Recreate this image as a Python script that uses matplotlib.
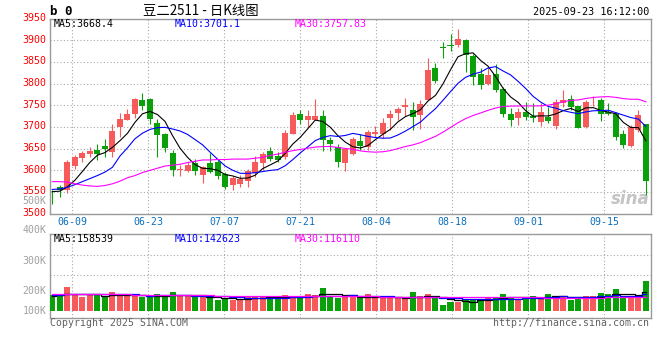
import numpy as np
import pandas as pd
import matplotlib
matplotlib.use('Agg')
import matplotlib.pyplot as plt
from matplotlib import transforms

# ---------------- data ----------------
date_labels = ['06-09', '06-23', '07-07', '07-21', '08-04', '08-18', '09-01', '09-15']

open_ = [3542, 3561, 3555, 3609, 3628, 3638, 3647, 3656, 3643, 3701,
         3716, 3730, 3762, 3765, 3710, 3684, 3639, 3601, 3599, 3618,
         3589, 3618, 3619, 3591, 3566, 3568, 3576, 3593, 3618, 3645,
         3633, 3631, 3685, 3730, 3716, 3717, 3725, 3670, 3653, 3618,
         3638, 3667, 3654, 3683, 3684, 3720, 3732, 3747, 3739, 3727,
         3762, 3836, 3884, 3888, 3889, 3900, 3863, 3823, 3800, 3822,
         3787, 3731, 3721, 3735, 3726, 3712, 3724, 3703, 3755, 3765,
         3748, 3701, 3759, 3762, 3734, 3731, 3684, 3656, 3693, 3707]
high = [3555, 3566, 3625, 3635, 3645, 3653, 3662, 3672, 3706, 3733,
        3741, 3768, 3779, 3768, 3718, 3687, 3648, 3612, 3620, 3627,
        3610, 3641, 3624, 3597, 3587, 3589, 3603, 3634, 3642, 3653,
        3642, 3693, 3735, 3739, 3739, 3764, 3739, 3677, 3661, 3651,
        3676, 3684, 3694, 3702, 3721, 3740, 3747, 3766, 3758, 3763,
        3859, 3848, 3896, 3914, 3927, 3904, 3869, 3836, 3839, 3845,
        3793, 3745, 3745, 3758, 3755, 3755, 3747, 3764, 3785, 3774,
        3749, 3762, 3772, 3768, 3755, 3735, 3693, 3705, 3739, 3708]
low = [3522, 3538, 3548, 3603, 3619, 3630, 3625, 3631, 3631, 3678,
       3716, 3722, 3739, 3707, 3631, 3643, 3587, 3587, 3597, 3589,
       3571, 3593, 3581, 3558, 3555, 3561, 3562, 3585, 3602, 3622,
       3619, 3626, 3683, 3707, 3699, 3716, 3645, 3645, 3608, 3599,
       3635, 3648, 3648, 3676, 3675, 3694, 3717, 3725, 3694, 3695,
       3762, 3802, 3860, 3876, 3885, 3827, 3796, 3787, 3796, 3781,
       3724, 3702, 3704, 3717, 3712, 3702, 3710, 3695, 3747, 3739,
       3697, 3697, 3748, 3714, 3728, 3670, 3652, 3653, 3689, 3543]
close = [3540, 3555, 3620, 3631, 3641, 3645, 3638, 3650, 3691, 3718,
         3730, 3765, 3749, 3718, 3682, 3651, 3601, 3604, 3612, 3599,
         3608, 3596, 3587, 3562, 3583, 3581, 3598, 3620, 3638, 3626,
         3625, 3687, 3727, 3716, 3725, 3725, 3671, 3661, 3620, 3649,
         3672, 3656, 3689, 3689, 3710, 3730, 3741, 3750, 3724, 3754,
         3831, 3806, 3883, 3887, 3904, 3866, 3816, 3796, 3820, 3785,
         3730, 3716, 3734, 3724, 3721, 3734, 3715, 3757, 3762, 3747,
         3698, 3757, 3760, 3729, 3729, 3678, 3658, 3701, 3728, 3576]
volume_k = [130, 130, 199, 136, 116, 130, 130, 111, 155, 130,
            130, 125, 116, 116, 138, 125, 155, 122, 122, 111,
            130, 103, 89, 103, 89, 89, 122, 122, 122, 94,
            103, 130, 122, 105, 138, 130, 188, 115, 108, 116,
            116, 103, 138, 108, 108, 108, 103, 94, 155, 122,
            138, 103, 47, 72, 72, 94, 94, 94, 103, 114,
            138, 103, 94, 114, 122, 114, 138, 122, 122, 89,
            94, 122, 122, 147, 138, 180, 103, 122, 122, 246]

# moving-average values visible before enough closes exist
ma5_head = [3551, 3552, 3562, 3577]
ma10_head = [3556, 3557, 3561, 3567, 3574, 3581, 3588, 3596, 3607]
ma30_head = [3574, 3574, 3573, 3569, 3566, 3564, 3563, 3565, 3569, 3575,
             3583, 3588, 3595, 3600, 3605, 3610, 3612, 3614, 3618, 3621,
             3624, 3624, 3625, 3625, 3626, 3626, 3626, 3628, 3630]
vma5_head = [125, 128, 138, 140]
vma10_head = [133, 133, 135, 135, 135, 136, 136, 136, 137]
vma30_head = [140, 140, 142, 142, 138, 138, 138, 138, 138, 138,
              136, 134, 134, 133, 133, 132, 132, 131, 130, 130,
              128, 127, 126, 125, 124, 123, 123, 122, 122]

price_ticks = [3500, 3550, 3600, 3650, 3700, 3750, 3800, 3850, 3900, 3950]
legend_price = ['MA5:3668.4', 'MA10:3701.1', 'MA30:3757.83']
legend_vol = ['MA5:158539', 'MA10:142623', 'MA30:116110']
vol_labels = ['400K', '300K', '200K', '100K']
title = '豆二2511 - 日K线图'
stamp = '2025-09-23 16:12:00'

# ---------------- helpers ----------------
W, H = 660, 360
fig = plt.figure(figsize=(6.6, 3.6), dpi=100)
fig.patch.set_facecolor('white')

def fx(px):
    return px / W

def fy(py):
    return 1 - py / H

MONO = 'DejaVu Sans Mono'
FS = 7.15
RED = '#f75a5a'
GREEN = '#0aa00a'
GRID = '#a8a8a8'
SPINE = '#9a9a9a'

n = len(close)
x = np.arange(n)
o = np.array(open_, float)
c = np.array(close, float)
hi = np.array(high, float)
lo = np.array(low, float)
vol = np.array(volume_k, float) * 1000
up = c >= o
cols = np.where(up, RED, GREEN)

def ma(series, w, head):
    m = pd.Series(series).rolling(w).mean().to_numpy()
    m[:w - 1] = head
    return m

ma5 = ma(c, 5, ma5_head)
ma10 = ma(c, 10, ma10_head)
ma30 = ma(c, 30, ma30_head)
vma5 = ma(vol, 5, np.array(vma5_head) * 1000)
vma10 = ma(vol, 10, np.array(vma10_head) * 1000)
vma30 = ma(vol, 30, np.array(vma30_head) * 1000)

L, R = 50.5, 650.5
T1, B1 = 18.7, 213.7
T2, B2 = 234.3, 317.7
ax = fig.add_axes([fx(L), fy(B1), (R - L) / W, (B1 - T1) / H])
axv = fig.add_axes([fx(L), fy(B2), (R - L) / W, (B2 - T2) / H])

xlim = (-0.24, 79.62)
tick0, tickstep = 2.662, 10.116
xt = [tick0 + k * tickstep for k in range(len(date_labels))]

# ---------------- main (price) panel ----------------
body_w = 0.8
ax.vlines(x, lo, hi, colors=cols, linewidth=0.8, zorder=3)
body_h = np.maximum(np.abs(c - o), 2.0)
ax.bar(x, body_h, bottom=np.minimum(o, c), width=body_w, color=cols,
       linewidth=0, zorder=4)
ax.plot(x, ma5, color='black', lw=0.8, zorder=5)
ax.plot(x, ma10, color='#0000ff', lw=0.8, zorder=5)
ax.plot(x, ma30, color='#ff00ff', lw=0.8, zorder=5)

ax.set_xlim(*xlim)
ax.set_ylim(3500, 3950)
ax.set_yticks(price_ticks)
ax.set_yticklabels([str(t) for t in price_ticks])
ax.set_xticks(xt)
ax.set_xticklabels(date_labels)
ax.tick_params(axis='y', length=0, pad=3.0, labelcolor='#ff0000', labelsize=FS)
ax.tick_params(axis='x', length=0, pad=2.6, labelcolor='#0a6ebd', labelsize=FS)
for lab in ax.get_yticklabels() + ax.get_xticklabels():
    lab.set_fontfamily(MONO)
off = transforms.ScaledTranslation(0, 1.6 / 100, fig.dpi_scale_trans)
for lab in ax.get_yticklabels():
    lab.set_transform(lab.get_transform() + off)
ax.grid(True, color=GRID, linestyle=(0, (1, 2)), linewidth=0.8, zorder=0)
ax.set_axisbelow(True)
for s in ax.spines.values():
    s.set_color(SPINE)
    s.set_linewidth(1.0)

ax.text(0.999, 0.03, 'sina', transform=ax.transAxes, ha='right', va='bottom',
        fontsize=12, fontweight='bold', fontstyle='italic', color='#c4c4c4',
        zorder=2)

# ---------------- volume panel ----------------
axv.bar(x, vol, width=body_w, color=cols, linewidth=0, zorder=3)
axv.plot(x, vma5, color='black', lw=0.9, drawstyle='steps-mid', zorder=5)
axv.plot(x, vma10, color='#0000ff', lw=0.9, drawstyle='steps-mid', zorder=5)
axv.plot(x, vma30, color='#ff00ff', lw=0.9, drawstyle='steps-mid', zorder=5)
axv.set_xlim(*xlim)
px_per_unit = 1 / 8290.0
axv.set_ylim(-(B2 - 310.7) / px_per_unit, (310.7 - T2) / px_per_unit)
axv.set_xticks(xt)
axv.set_yticks([])
axv.tick_params(axis='x', length=0, labelbottom=False)
axv.grid(True, axis='x', color=GRID, linestyle=(0, (1, 2)), linewidth=0.8, zorder=0)
for gy in (255.0, 275.3):
    axv.axhline((310.7 - gy) / px_per_unit, color=GRID, linestyle=(0, (1, 2)),
                linewidth=0.8, zorder=0)
axv.set_axisbelow(True)
for s in axv.spines.values():
    s.set_color(SPINE)
    s.set_linewidth(1.0)

for lab, ly in zip(vol_labels, [230.5, 260.5, 291.0, 311.0]):
    fig.text(fx(46.5), fy(ly), lab, ha='right', va='center', fontsize=FS,
             family=MONO, color='#a0a0a0')
fig.text(fx(46.5), fy(200.7), '500K', ha='right', va='center', fontsize=FS,
         family=MONO, color='#a0a0a0')

# ---------------- texts ----------------
fig.text(fx(50), fy(11.3), 'b 0', ha='left', va='center', fontsize=9,
         fontweight='bold', family=MONO, color='black')
fig.text(fx(200.5), fy(11.3), title, ha='center', va='center', fontsize=9.6,
         family=['Noto Sans CJK SC', 'DejaVu Sans'], color='black')
fig.text(fx(649.5), fy(11.8), stamp, ha='right', va='center', fontsize=7.3,
         family=MONO, color='black')

for txt, xx, col in zip(legend_price, [54, 174.5, 295], ['black', '#0000ff', '#ff00ff']):
    fig.text(fx(xx), fy(24.3), txt, ha='left', va='center', fontsize=FS,
             family=MONO, color=col)
for txt, xx, col in zip(legend_vol, [54, 174.5, 295], ['black', '#0000ff', '#ff00ff']):
    fig.text(fx(xx), fy(238.5), txt, ha='left', va='center', fontsize=FS,
             family=MONO, color=col)

fig.text(fx(50), fy(323.5), 'Copyright 2025 SINA.COM', ha='left', va='center',
         fontsize=FS, family=MONO, color='#606060')
fig.text(fx(649.5), fy(323.5), 'http://finance.sina.com.cn', ha='right',
         va='center', fontsize=FS, family=MONO, color='#606060')

fig.savefig('out.png', dpi=100, facecolor='white')
